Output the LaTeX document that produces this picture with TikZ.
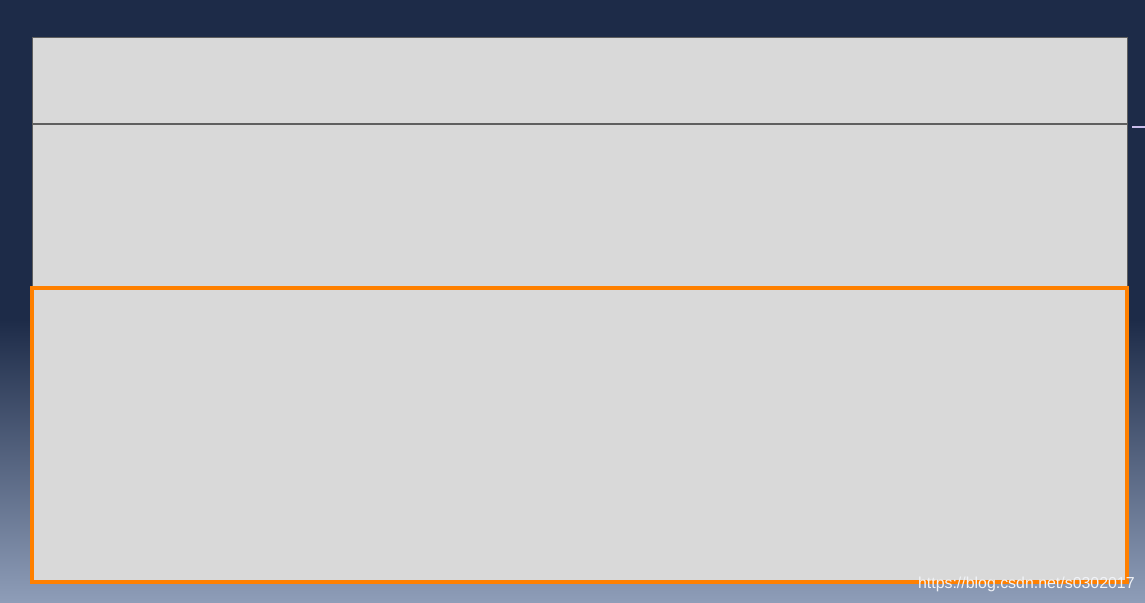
\documentclass[tikz,border=0pt]{standalone}
\usepackage{fontspec}
\setsansfont{Liberation Sans}
\usetikzlibrary{positioning}

\definecolor{navy}{HTML}{1D2B48}
\definecolor{fog}{HTML}{8E9DB8}
\definecolor{panelgray}{HTML}{D9D9D9}
\definecolor{edgegray}{HTML}{5F5F5F}
\definecolor{hiorange}{HTML}{FF8000}
\definecolor{lavender}{HTML}{C9BDEB}

\begin{document}
\begin{tikzpicture}[
    x=0.02cm, y=-0.02cm,
    panel/.style={fill=panelgray, draw=edgegray, line width=0.4pt},
    divider/.style={draw=edgegray, line width=1.2pt},
    selected/.style={draw=hiorange, line width=1.8pt},
    marker/.style={draw=lavender, line width=1.7pt},
    watermark/.style={text=white!88!fog, font=\sffamily\fontsize{9.05}{11}\selectfont, anchor=base east, inner sep=0pt}
]
    % Background
    \fill [navy] (0,0) rectangle (1145,320);
    \shade [top color=navy, bottom color=fog] (0,319) rectangle (1145,602);
    \useasboundingbox (0,0) rectangle (1145,602);

    % Corners of the panels
    \coordinate (top nw) at (32,37);
    \coordinate (mid nw) at (32,124);
    \coordinate (mid se) at (1127,288);
    \coordinate (low nw) at (32,288);
    \coordinate (low se) at (1127,582);

    % Panels
    \path [panel] (top nw) rectangle (mid se);
    \path [panel, draw=none] (low nw) rectangle (low se);
    \path [divider] (mid nw) -- (mid nw -| mid se);
    \path [selected] (low nw) rectangle (low se);

    % Marker at the right
    \coordinate (mark start) at (1132,127);
    \coordinate (mark end) at (1145,127);
    \path [marker] (mark start) -- (mark end);

    % Watermark
    \node [watermark] (source) at (1135,588) {https://blog.csdn.net/s0302017};
\end{tikzpicture}
\end{document}
